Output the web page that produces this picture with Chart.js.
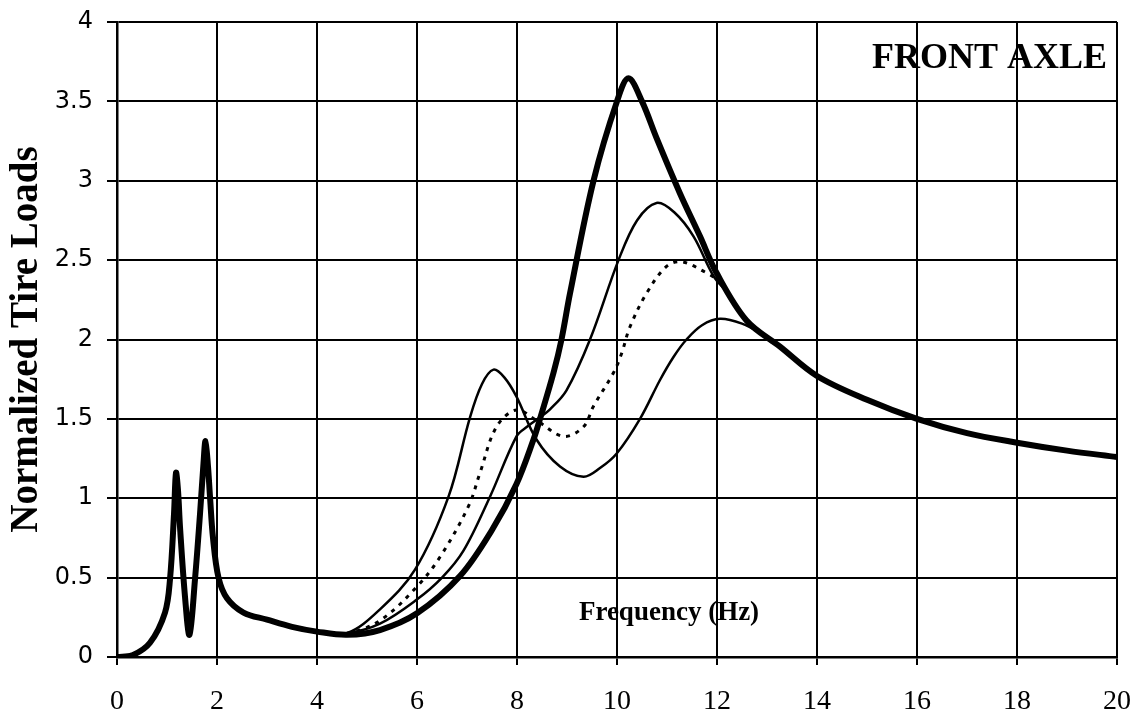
<!DOCTYPE html>
<html lang="en">
<head>
<meta charset="UTF-8">
<title>Front Axle - Normalized Tire Loads</title>
<script src="https://cdn.jsdelivr.net/npm/chart.js@4.4.1/dist/chart.umd.min.js"></script>
<style>
   html, body { margin: 0; padding: 0; background: #fff; }
   #wrap { width: 1143px; height: 717px; position: relative; }
</style>
</head>
<body>
<div id="wrap"><canvas id="myChart"></canvas></div>
<script>
   // thick curve
   const aFreq = [0, 0.3, 0.66, 0.96, 1.06, 1.14, 1.18, 1.22, 1.26, 1.36, 1.45, 1.56, 1.66, 1.73, 1.77, 1.82, 1.86, 1.92, 2.03, 2.2, 2.53, 3.0, 3.5, 4.0, 4.6, 5.26, 6.0, 6.86, 7.5, 7.99, 8.33, 8.46, 8.73, 8.89, 9.06, 9.53, 10.0, 10.23, 10.5, 10.79, 11.26, 11.66, 11.99, 12.59, 13.26, 14, 15, 16, 17, 18, 19, 20];
   const aLoad = [0, 0.01, 0.09, 0.28, 0.49, 0.9, 1.16, 1.05, 0.82, 0.38, 0.14, 0.49, 0.9, 1.22, 1.36, 1.2, 1.01, 0.75, 0.5, 0.37, 0.28, 0.235, 0.19, 0.16, 0.14, 0.17, 0.275, 0.51, 0.8, 1.09, 1.37, 1.5, 1.79, 2.0, 2.29, 3.0, 3.5, 3.645, 3.5, 3.27, 2.92, 2.65, 2.42, 2.12, 1.955, 1.77, 1.62, 1.5, 1.41, 1.35, 1.3, 1.26];

   // thin solid, peak near 2.85
   const bFreq = [4.0, 4.6, 5.26, 5.99, 6.5, 6.93, 7.46, 7.99, 8.2, 8.46, 8.66, 8.99, 9.46, 10.03, 10.4, 10.79, 11.15, 11.53, 11.93, 12.2];
   const bLoad = [0.16, 0.15, 0.21, 0.36, 0.5, 0.67, 1.01, 1.39, 1.45, 1.51, 1.56, 1.68, 2.0, 2.5, 2.75, 2.86, 2.8, 2.65, 2.4, 2.3];

   // dotted, peak near 2.49
   const cFreq = [4.0, 4.6, 5.26, 5.99, 6.46, 7.03, 7.26, 7.59, 7.99, 8.39, 8.93, 9.33, 9.53, 9.93, 10.09, 10.26, 10.59, 10.99, 11.29, 11.79, 12.1];
   const cLoad = [0.16, 0.15, 0.23, 0.44, 0.63, 0.95, 1.16, 1.45, 1.556, 1.49, 1.39, 1.45, 1.58, 1.79, 1.91, 2.08, 2.29, 2.46, 2.49, 2.42, 2.36];

   // thin solid, first peak 1.8 then 2.12
   const dFreq = [4.0, 4.6, 5.26, 5.96, 6.63, 7.06, 7.3, 7.53, 7.75, 7.99, 8.39, 8.86, 9.33, 9.66, 9.99, 10.46, 10.86, 11.13, 11.39, 11.7, 12.06, 12.5, 12.86, 13.1];
   const dLoad = [0.16, 0.15, 0.30, 0.55, 1.01, 1.51, 1.72, 1.81, 1.76, 1.64, 1.37, 1.2, 1.135, 1.19, 1.28, 1.5, 1.745, 1.89, 2.0, 2.09, 2.13, 2.1, 2.04, 1.98];

   const xTicks = [0, 2, 4, 6, 8, 10, 12, 14, 16, 18, 20];
   const yTicks = [0, 0.5, 1, 1.5, 2, 2.5, 3, 3.5, 4];

   function pts(xs, ys) {
      return xs.map((x, i) => ({ x: x, y: ys[i] }));
   }

   // text placed in data coordinates
   const notes = [
      { text: 'FRONT AXLE', x: 19.8, y: 3.77, align: 'right', font: 'bold 36px "Liberation Serif"' },
      { text: 'Frequency (Hz)', x: 11.04, y: 0.28, align: 'center', font: 'bold 27px "Liberation Serif"' }
   ];

   const notesPlugin = {
      id: 'notes',
      afterDatasetsDraw(chart) {
         const ctx = chart.ctx;
         const xs = chart.scales.x, ys = chart.scales.y;
         ctx.save();
         ctx.fillStyle = '#000';
         ctx.textBaseline = 'middle';
         notes.forEach(n => {
            ctx.font = n.font;
            ctx.textAlign = n.align;
            ctx.fillText(n.text, xs.getPixelForValue(n.x), ys.getPixelForValue(n.y));
         });
         ctx.restore();
      }
   };

   const common = { fill: false, pointRadius: 0, tension: 0.35, borderColor: '#000' };

   const config = {
      type: 'line',
      data: {
         datasets: [
            Object.assign({ label: 'A', data: pts(aFreq, aLoad), borderWidth: 6 }, common),
            Object.assign({ label: 'B', data: pts(bFreq, bLoad), borderWidth: 2.5 }, common),
            Object.assign({ label: 'C', data: pts(cFreq, cLoad), borderWidth: 3, borderDash: [4, 6] }, common),
            Object.assign({ label: 'D', data: pts(dFreq, dLoad), borderWidth: 2.5 }, common)
         ]
      },
      options: {
         responsive: true,
         maintainAspectRatio: false,
         animation: false,
         layout: { padding: { top: 22, right: 26, left: 0, bottom: 0 } },
         plugins: { legend: { display: false }, tooltip: { enabled: false } },
         scales: {
            x: {
               type: 'linear',
               min: 0,
               max: 20,
               afterBuildTicks: s => { s.ticks = xTicks.map(v => ({ value: v })); },
               afterFit: s => { s.height = 60; s.paddingLeft = 0; s.paddingRight = 0; },
               grid: { color: '#000', lineWidth: 2, tickLength: 8, tickColor: '#000' },
               border: { color: '#000', width: 2.5 },
               ticks: { color: '#000', padding: 20, maxRotation: 0, font: { family: 'Liberation Serif', size: 28 } }
            },
            y: {
               min: 0,
               max: 4,
               afterBuildTicks: s => { s.ticks = yTicks.map(v => ({ value: v })); },
               afterFit: s => { s.width = 117; s.paddingTop = 0; s.paddingBottom = 0; },
               grid: { color: '#000', lineWidth: 2, tickLength: 10, tickColor: '#000' },
               border: { color: '#000', width: 2.5 },
               ticks: { color: '#000', padding: 14, font: { family: 'DejaVu Sans', size: 24 }, callback: v => String(v) },
               title: {
                  display: true,
                  text: 'Normalized Tire Loads',
                  color: '#000',
                  padding: { top: 4, bottom: 0 },
                  font: { family: 'Liberation Serif', size: 39, weight: 'bold' }
               }
            }
         }
      },
      plugins: [notesPlugin]
   };

   new Chart(document.getElementById('myChart').getContext('2d'), config);
</script>
</body>
</html>
